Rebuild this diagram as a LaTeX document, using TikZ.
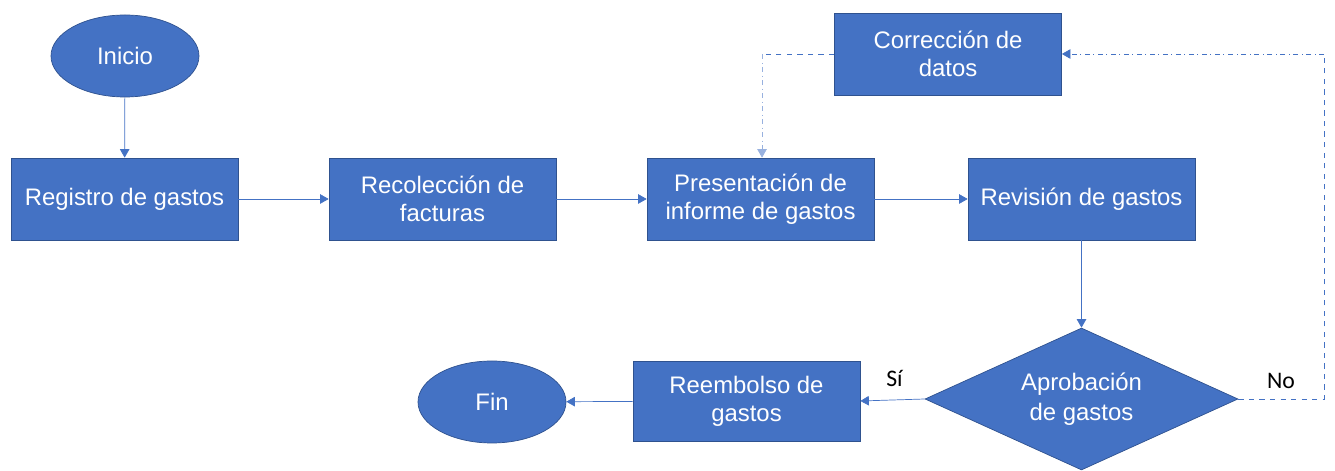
\documentclass[tikz,border=0pt]{standalone}
\usepackage{fontspec}
\setmainfont{Liberation Sans}
\newfontfamily\labelfont{Carlito}
\definecolor{OfficeBlue}{RGB}{68,114,196}
\definecolor{OfficeEdge}{RGB}{47,82,143}
\colorlet{ColourFill}{OfficeBlue}
\colorlet{ColourLine}{OfficeBlue}
\usetikzlibrary{shapes.geometric}
\usetikzlibrary{arrows.meta}

\tikzset{
  paso/.style={rectangle, fill=ColourFill, draw=OfficeEdge, thin, text=white,
    minimum width=4.54cm, minimum height=1.64cm, inner sep=1pt, align=center,
    font=\fontsize{13.6}{16}\selectfont},
  extremo/.style={ellipse, fill=ColourFill, draw=OfficeEdge, thin, text=white,
    minimum width=2.96cm, minimum height=1.64cm, inner sep=0pt,
    font=\fontsize{13.6}{16}\selectfont},
  decision/.style={diamond, aspect=2.2, fill=ColourFill, draw=OfficeEdge, thin, text=white,
    minimum width=6.26cm, minimum height=2.84cm, inner sep=0pt, align=center,
    font=\fontsize{13.6}{17}\selectfont},
  flecha/.style={ColourLine, thin, -{Triangle[length=1.7mm,width=1.9mm]}},
  etiqueta/.style={text=black, font=\labelfont\fontsize{13.5}{16}\selectfont},
}

\begin{document}
\begin{tikzpicture}

  \useasboundingbox (0,0) rectangle (26.7cm,-9.42cm);

  \node[extremo] (inicio) at (2.5cm,-1.12cm) {Inicio};
  \node[paso] (registro) at (2.49cm,-3.98cm) {Registro de gastos};
  \node[paso] (recoleccion) at (8.85cm,-3.98cm) {Recolección de\\facturas};
  \node[paso] (presentacion) at (15.21cm,-3.98cm) {Presentación de\\informe de gastos};
  \node[paso] (revision) at (21.63cm,-3.98cm) {Revisión de gastos};
  \node[paso] (correccion) at (18.96cm,-1.08cm) {Corrección de\\datos};
  \node[decision] (aprobacion) at (21.63cm,-7.98cm) {Aprobación\\de gastos};
  \node[paso, minimum height=1.6cm] (reembolso) at (14.93cm,-8.02cm) {Reembolso de\\gastos};
  \node[extremo] (fin) at (9.84cm,-8.04cm) {Fin};

  \draw[flecha] (inicio) -- (registro);
  \draw[flecha] (registro) -- (recoleccion);
  \draw[flecha] (recoleccion) -- (presentacion);
  \draw[flecha] (presentacion) -- (revision);
  \draw[flecha] (revision.south) -- (aprobacion.north);
  \draw[flecha] (aprobacion.west) -- (reembolso.east)
    node[etiqueta, pos=0.47, above=4pt] {Sí};
  \draw[flecha] (reembolso) -- (fin);

  % lazo de rechazo
  \coordinate (esqB) at (26.48cm,-7.98cm);
  \coordinate (esqC) at (26.48cm,-1.08cm);
  \draw[ColourLine, thin, dashed] (aprobacion.east) -- (esqB) -- (esqC);
  \draw[flecha, dash dot] (esqC) -- (correccion.east);
  \node[etiqueta] (no) at (25.62cm,-7.62cm) {No};

  \coordinate (esqA) at ([xshift=0.03cm]presentacion.north |- correccion.west);
  \draw[ColourLine, thin, dashed] (correccion.west) -- (esqA);
  \draw[flecha, ColourLine!55, dash dot] (esqA) -- ([xshift=0.03cm]presentacion.north);

\end{tikzpicture}
\end{document}
